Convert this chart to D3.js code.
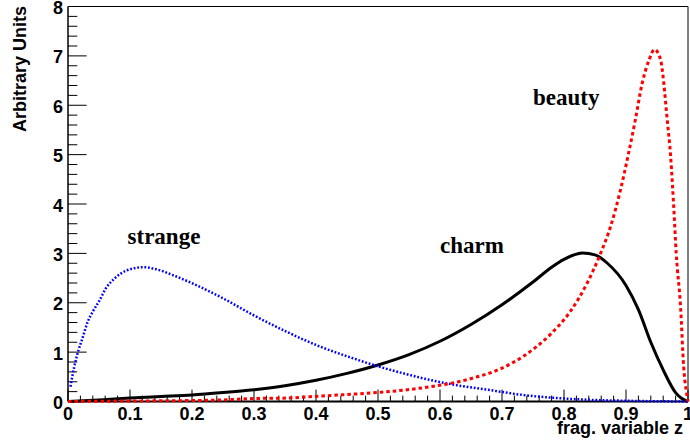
<!DOCTYPE html>
<html>
<head>
<meta charset="utf-8">
<script src="https://cdn.jsdelivr.net/npm/d3@7"></script>
<style>
  html, body { margin: 0; padding: 0; background: #fff; }
  svg { display: block; }
</style>
</head>
<body>
<svg id="chart" width="690" height="448"></svg>
<script>
// Fragmentation functions for strange, charm and beauty quarks (arbitrary units)
const strangeZ = [0.004, 0.010, 0.017, 0.024, 0.032, 0.040, 0.051, 0.061, 0.075, 0.094, 0.121, 0.142, 0.169, 0.201, 0.250, 0.299, 0.353, 0.407, 0.461, 0.498, 0.541, 0.590, 0.627, 0.681, 0.735, 0.789, 0.850, 0.900, 0.950, 1.000];
const strangeV = [0.30, 0.70, 1.04, 1.31, 1.62, 1.82, 2.05, 2.29, 2.49, 2.65, 2.72, 2.68, 2.56, 2.39, 2.09, 1.75, 1.41, 1.11, 0.87, 0.72, 0.57, 0.42, 0.33, 0.23, 0.13, 0.07, 0.03, 0.015, 0.005, 0.0];

const charmZ = [0.00, 0.05, 0.10, 0.15, 0.20, 0.25, 0.30, 0.35, 0.40, 0.45, 0.50, 0.55, 0.60, 0.65, 0.70, 0.75, 0.78, 0.80, 0.83, 0.85, 0.87, 0.90, 0.92, 0.94, 0.96, 0.98, 0.99, 1.00];
const charmV = [0.00, 0.03, 0.07, 0.10, 0.13, 0.18, 0.24, 0.32, 0.43, 0.57, 0.74, 0.95, 1.22, 1.56, 1.96, 2.42, 2.72, 2.88, 3.01, 2.97, 2.80, 2.35, 1.86, 1.20, 0.64, 0.18, 0.06, 0.00];

const beautyZ = [0.0, 0.10, 0.20, 0.245, 0.299, 0.353, 0.407, 0.461, 0.498, 0.541, 0.590, 0.630, 0.660, 0.681, 0.697, 0.735, 0.778, 0.810, 0.837, 0.859, 0.875, 0.891, 0.904, 0.915, 0.926, 0.937, 0.946, 0.956, 0.961, 0.966, 0.972, 0.977, 0.981, 0.988, 0.993, 0.997, 1.0];
const beautyV = [0.0, 0.01, 0.02, 0.03, 0.06, 0.07, 0.11, 0.15, 0.18, 0.23, 0.31, 0.40, 0.50, 0.58, 0.66, 0.92, 1.36, 1.82, 2.39, 3.00, 3.54, 4.28, 5.02, 5.70, 6.44, 6.91, 7.13, 6.91, 6.44, 5.77, 4.96, 3.94, 3.00, 1.92, 0.70, 0.23, 0.0];

const xTickLabels = ["0", "0.1", "0.2", "0.3", "0.4", "0.5", "0.6", "0.7", "0.8", "0.9", "1"];
const yTickLabels = ["0", "1", "2", "3", "4", "5", "6", "7", "8"];

const curveLabels = [
  { text: "strange", z: 0.096, v: 3.2 },
  { text: "charm",   z: 0.600, v: 3.0 },
  { text: "beauty",  z: 0.750, v: 6.0 }
];

const svg = d3.select("#chart");
const plotL = 68, plotR = 688, plotT = 6.5, plotB = 401.5;
const x = d3.scaleLinear().domain([0, 1]).range([plotL, plotR]);
const y = d3.scaleLinear().domain([0, 8]).range([plotB, plotT]);

const axisFont = "'Liberation Sans', Arial, Helvetica, sans-serif";
const labelFont = "'Liberation Serif', 'Times New Roman', serif";

// frame (top and right)
svg.append("path")
  .attr("d", `M${plotL},${plotT}H${plotR}V${plotB}`)
  .attr("fill", "none").attr("stroke", "#000").attr("stroke-width", 1);

// x axis: major every 0.1, minor every 0.02, ticks pointing into the plot
const xMajor = 11.9, xMinor = 5.9;
const xAxis = svg.append("g");
d3.range(0, 51).forEach(i => {
  const v = i / 50;
  const len = (i % 5 === 0) ? xMajor : xMinor;
  xAxis.append("line")
    .attr("x1", x(v)).attr("x2", x(v))
    .attr("y1", plotB).attr("y2", plotB - len)
    .attr("stroke", "#000").attr("stroke-width", 1);
});
xAxis.append("line").attr("x1", plotL).attr("x2", plotR)
  .attr("y1", plotB).attr("y2", plotB)
  .attr("stroke", "#000").attr("stroke-width", 2);
xAxis.selectAll("text.tick").data(xTickLabels).enter().append("text")
  .attr("x", (d, i) => x(i / 10)).attr("y", 419.5)
  .attr("text-anchor", "middle")
  .attr("font-family", axisFont).attr("font-weight", "bold").attr("font-size", 18)
  .text(d => d);
xAxis.append("text")
  .attr("x", 683).attr("y", 434)
  .attr("text-anchor", "end")
  .attr("font-family", axisFont).attr("font-weight", "bold").attr("font-size", 18)
  .text("frag. variable z");

// y axis: major every 1, minor every 0.2
const yMajor = 18.6, yMinor = 9.3;
const yAxis = svg.append("g");
d3.range(0, 41).forEach(i => {
  const v = i / 5;
  const len = (i % 5 === 0) ? yMajor : yMinor;
  yAxis.append("line")
    .attr("x1", plotL).attr("x2", plotL + len)
    .attr("y1", y(v)).attr("y2", y(v))
    .attr("stroke", "#000").attr("stroke-width", 1);
});
yAxis.append("line").attr("x1", plotL).attr("x2", plotL)
  .attr("y1", plotT).attr("y2", plotB)
  .attr("stroke", "#000").attr("stroke-width", 1.5);
yAxis.selectAll("text.tick").data(yTickLabels).enter().append("text")
  .attr("x", 63).attr("y", (d, i) => y(i) + 7.5)
  .attr("text-anchor", "end")
  .attr("font-family", axisFont).attr("font-weight", "bold").attr("font-size", 18)
  .text(d => d);
yAxis.append("text")
  .attr("transform", "translate(26,6) rotate(-90)")
  .attr("text-anchor", "end")
  .attr("font-family", axisFont).attr("font-weight", "bold").attr("font-size", 18)
  .text("Arbitrary Units");

// curves
const line = d3.line()
  .x(d => x(d[0])).y(d => y(d[1]))
  .curve(d3.curveMonotoneX);
const zip = (a, b) => a.map((v, i) => [v, b[i]]);

svg.append("path").datum(zip(charmZ, charmV))
  .attr("d", line).attr("fill", "none")
  .attr("stroke", "#000").attr("stroke-width", 3);

svg.append("path").datum(zip(strangeZ, strangeV))
  .attr("d", line).attr("fill", "none")
  .attr("stroke", "#0000ff").attr("stroke-width", 2.5)
  .attr("stroke-dasharray", "1.8 1.8");

svg.append("path").datum(zip(beautyZ, beautyV))
  .attr("d", line).attr("fill", "none")
  .attr("stroke", "#ff0000").attr("stroke-width", 3)
  .attr("stroke-dasharray", "3.5 3");

// curve labels
svg.selectAll("text.curve").data(curveLabels).enter().append("text")
  .attr("x", d => x(d.z)).attr("y", d => y(d.v))
  .attr("font-family", labelFont).attr("font-weight", "bold").attr("font-size", 23)
  .attr("fill", "#000")
  .text(d => d.text);
</script>
</body>
</html>
